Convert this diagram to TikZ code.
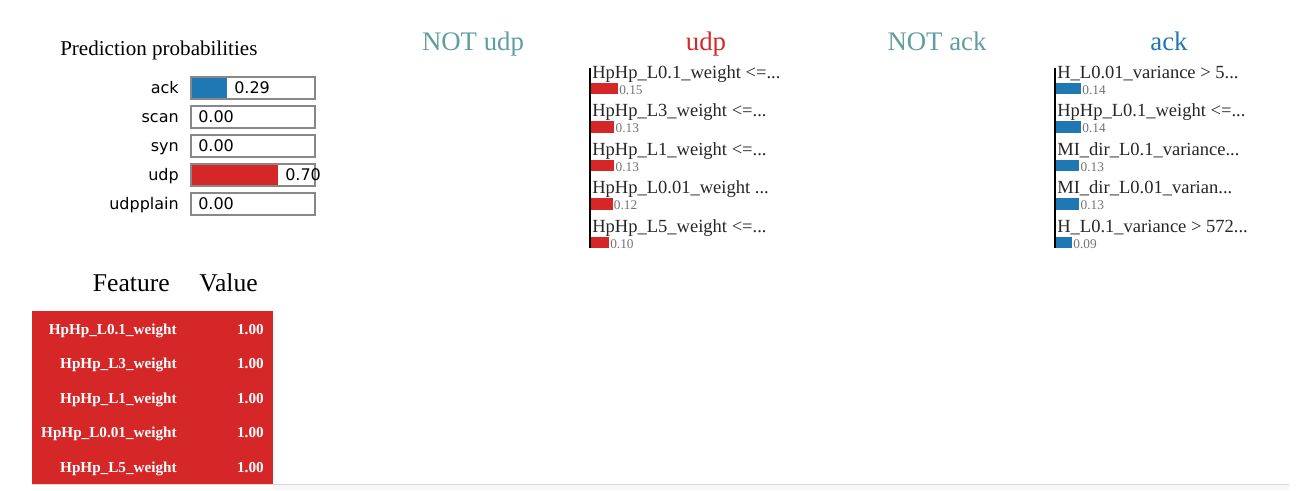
\documentclass[tikz,border=0pt]{standalone}
\usepackage{fontspec}
\setmainfont{Liberation Serif}
\newfontfamily\probfont{DejaVu Sans}
\definecolor{limered}{RGB}{214,39,40}
\definecolor{limeblue}{RGB}{31,119,180}
\definecolor{notcol}{RGB}{95,158,160}
\definecolor{boxgray}{RGB}{136,136,136}

\begin{document}
\begin{tikzpicture}[x=0.75pt,y=0.75pt,yscale=-1,xscale=1,
	every node/.style={inner sep=0pt},
	ttl/.style={font=\fontsize{20.1}{23}\selectfont},
	headlbl/.style={font=\fontsize{19.2}{22}\selectfont},
	problbl/.style={font=\probfont\fontsize{12}{14}\selectfont},
	featlbl/.style={font=\fontsize{13.9}{16}\selectfont, text=black!85},
	weightlbl/.style={font=\fontsize{10}{12}\selectfont, text=black!55},
	rowlbl/.style={font=\bfseries\fontsize{11.4}{13}\selectfont, text=white},
	probbox/.style={draw=boxgray, line width=1.5pt},
	axisline/.style={line width=1.5pt}]
			\useasboundingbox (0,0) rectangle (1299,490);
			% prediction probabilities
			\draw (60,55) node [anchor=base west, font=\fontsize{15.8}{18}\selectfont] (ptitle) {Prediction probabilities};
			\fill [limeblue] (191,76.5) rectangle (227,98.5);
			\draw [probbox] (191,76.5) rectangle (315,98.5);
			\draw [probbox] (191,105.5) rectangle (315,127.5);
			\draw [probbox] (191,134.5) rectangle (315,156.5);
			\fill [limered] (191,163.5) rectangle (278,185.5);
			\draw [probbox] (191,163.5) rectangle (315,185.5);
			\draw [probbox] (191,192.5) rectangle (315,214.5);
			\draw (179,93.5) node [anchor=base east][problbl] (lack) {ack};
			\draw (179,122.5) node [anchor=base east][problbl] (lscan) {scan};
			\draw (179,151.5) node [anchor=base east][problbl] (lsyn) {syn};
			\draw (179,180.5) node [anchor=base east][problbl] (ludp) {udp};
			\draw (179,209.5) node [anchor=base east][problbl] (ludpplain) {udpplain};
			\draw (234,93.5) node [anchor=base west][problbl] (vack) {0.29};
			\draw (198,122.5) node [anchor=base west][problbl] (vscan) {0.00};
			\draw (198,151.5) node [anchor=base west][problbl] (vsyn) {0.00};
			\draw (285,180.5) node [anchor=base west][problbl] (vudp) {0.70};
			\draw (198,209.5) node [anchor=base west][problbl] (vudpplain) {0.00};
			% class titles
			\draw (473,50) node [anchor=base][ttl, text=notcol] (notudp) {NOT udp};
			\draw (706,50) node [anchor=base][ttl, text=limered] (udp) {udp};
			\draw (937,50) node [anchor=base][ttl, text=notcol] (notack) {NOT ack};
			\draw (1169,50) node [anchor=base][ttl, text=limeblue] (ack) {ack};
			% udp explanation
			\draw [axisline] (590,68) -- (590,248);
			\fill [limered] (591,82.5) rectangle (618,94);
			\fill [limered] (591,121) rectangle (614.4,132.5);
			\fill [limered] (591,159.5) rectangle (614.4,171);
			\fill [limered] (591,198) rectangle (612.6,209.5);
			\fill [limered] (591,236.5) rectangle (609,248);
			\draw (592,78) node [anchor=base west][featlbl] (ufa) {HpHp\_L0.1\_weight <=...};
			\draw (592,116.5) node [anchor=base west][featlbl] (ufb) {HpHp\_L3\_weight <=...};
			\draw (592,155) node [anchor=base west][featlbl] (ufc) {HpHp\_L1\_weight <=...};
			\draw (592,193.5) node [anchor=base west][featlbl] (ufd) {HpHp\_L0.01\_weight ...};
			\draw (592,232) node [anchor=base west][featlbl] (ufe) {HpHp\_L5\_weight <=...};
			\draw (619,94) node [anchor=base west][weightlbl] (uwa) {0.15};
			\draw (615.4,132.5) node [anchor=base west][weightlbl] (uwb) {0.13};
			\draw (615.4,171) node [anchor=base west][weightlbl] (uwc) {0.13};
			\draw (613.6,209.5) node [anchor=base west][weightlbl] (uwd) {0.12};
			\draw (610,248) node [anchor=base west][weightlbl] (uwe) {0.10};
			% ack explanation
			\draw [axisline] (1055,68) -- (1055,248);
			\fill [limeblue] (1056,82.5) rectangle (1081.2,94);
			\fill [limeblue] (1056,121) rectangle (1081.2,132.5);
			\fill [limeblue] (1056,159.5) rectangle (1079.4,171);
			\fill [limeblue] (1056,198) rectangle (1079.4,209.5);
			\fill [limeblue] (1056,236.5) rectangle (1072.2,248);
			\draw (1057,78) node [anchor=base west][featlbl] (afa) {H\_L0.01\_variance > 5...};
			\draw (1057,116.5) node [anchor=base west][featlbl] (afb) {HpHp\_L0.1\_weight <=...};
			\draw (1057,155) node [anchor=base west][featlbl] (afc) {MI\_dir\_L0.1\_variance...};
			\draw (1057,193.5) node [anchor=base west][featlbl] (afd) {MI\_dir\_L0.01\_varian...};
			\draw (1057,232) node [anchor=base west][featlbl] (afe) {H\_L0.1\_variance > 572...};
			\draw (1082.2,94) node [anchor=base west][weightlbl] (awa) {0.14};
			\draw (1082.2,132.5) node [anchor=base west][weightlbl] (awb) {0.14};
			\draw (1080.4,171) node [anchor=base west][weightlbl] (awc) {0.13};
			\draw (1080.4,209.5) node [anchor=base west][weightlbl] (awd) {0.13};
			\draw (1073.2,248) node [anchor=base west][weightlbl] (awe) {0.09};
			% feature table
			\draw (170,291) node [anchor=base east][headlbl] (hfeat) {Feature};
			\draw (258,291) node [anchor=base east][headlbl] (hval) {Value};
			\fill [limered] (32,311) rectangle (273,484);
			\draw (177,334) node [anchor=base east][rowlbl] (ra) {HpHp\_L0.1\_weight};
			\draw (177,368.5) node [anchor=base east][rowlbl] (rb) {HpHp\_L3\_weight};
			\draw (177,403) node [anchor=base east][rowlbl] (rc) {HpHp\_L1\_weight};
			\draw (177,437.5) node [anchor=base east][rowlbl] (rd) {HpHp\_L0.01\_weight};
			\draw (177,472) node [anchor=base east][rowlbl] (re) {HpHp\_L5\_weight};
			\draw (264,334) node [anchor=base east][rowlbl] (va) {1.00};
			\draw (264,368.5) node [anchor=base east][rowlbl] (vb) {1.00};
			\draw (264,403) node [anchor=base east][rowlbl] (vc) {1.00};
			\draw (264,437.5) node [anchor=base east][rowlbl] (vd) {1.00};
			\draw (264,472) node [anchor=base east][rowlbl] (ve) {1.00};
			% bottom rule
			\fill [black!3] (273,484) rectangle (1289,490);
			\draw [black!15, line width=0.75pt] (32,484.5) -- (1289,484.5);
			\end{tikzpicture}
\end{document}
